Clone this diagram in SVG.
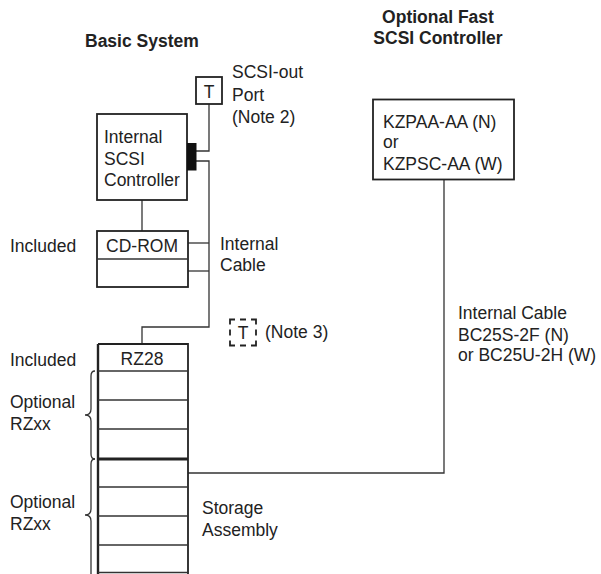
<svg xmlns="http://www.w3.org/2000/svg" width="601" height="574" viewBox="0 0 601 574">
<style>
text{font-family:"Liberation Sans",Arial,sans-serif;font-size:17.5px;fill:#222}
.b{font-weight:bold}
.m{text-anchor:middle}
.box{fill:none;stroke:#222;stroke-width:1.8}
.ln{fill:none;stroke:#333;stroke-width:1.3}
.dash{fill:none;stroke:#222;stroke-width:1.8;stroke-dasharray:5,5,6,5,10,5,6,5,10,5,6,5,10,5,6,5,5}
</style>
<rect width="601" height="574" fill="#fff"/>
<g id="titles">
<text class="b" x="85" y="47">Basic System</text>
<text class="b m" x="438" y="23">Optional Fast</text>
<text class="b m" x="438" y="44">SCSI Controller</text>
</g>
<g id="connectors">
<path class="ln" d="M209,104 V151 H196"/>
<path class="ln" d="M196,161 H209 V327 H142 V344"/>
<path class="ln" d="M142,200 V231"/>
<path class="ln" d="M188,243 H209"/>
<path class="ln" d="M188,271 H209"/>
<path class="ln" d="M444,180 V473 H188"/>
</g>
<g id="scsi-out-port">
<rect class="box" x="196" y="77" width="26" height="27"/>
<text class="m" x="209" y="98">T</text>
<text x="232" y="78">SCSI-out</text>
<text x="232" y="101">Port</text>
<text x="232" y="123">(Note 2)</text>
</g>
<g id="internal-controller">
<rect class="box" x="97" y="114" width="90" height="86"/>
<rect x="187" y="143" width="9.5" height="27.5" fill="#111"/>
<text x="104" y="142.5">Internal</text>
<text x="104" y="164.5">SCSI</text>
<text x="104" y="186">Controller</text>
</g>
<g id="cd-rom">
<rect class="box" x="97" y="231" width="91" height="56"/>
<line class="ln" x1="97" y1="259" x2="188" y2="259"/>
<text class="m" x="142" y="251.5">CD-ROM</text>
<text x="10" y="251.5">Included</text>
</g>
<g id="internal-cable-label">
<text x="220" y="250">Internal</text>
<text x="220" y="271">Cable</text>
</g>
<g id="terminator-note3">
<rect class="dash" x="230" y="319.5" width="26" height="26"/>
<text class="m" x="243" y="339">T</text>
<text x="265" y="338">(Note 3)</text>
</g>
<g id="storage-assembly">
<path class="box" d="M98,344 H188 V574 M98,344 V574"/>
<line x1="98" y1="344" x2="98" y2="574" stroke="#222" stroke-width="2.4"/>
<line class="ln" x1="98" y1="371" x2="188" y2="371"/>
<line class="ln" x1="98" y1="400" x2="188" y2="400"/>
<line class="ln" x1="98" y1="429" x2="188" y2="429"/>
<line x1="98" y1="459" x2="188" y2="459" stroke="#222" stroke-width="3"/>
<line class="ln" x1="98" y1="487" x2="188" y2="487"/>
<line class="ln" x1="98" y1="516" x2="188" y2="516"/>
<line class="ln" x1="98" y1="545" x2="188" y2="545"/>
<line class="ln" x1="98" y1="572.5" x2="188" y2="572.5"/>
<text class="m" x="142" y="365">RZ28</text>
<text x="10" y="365.5">Included</text>
<path class="ln" d="M95,371 Q91,371 91,376 L91,409 Q91,415 85,415 Q91,415 91,421 L91,454 Q91,459 95,459"/>
<path class="ln" d="M95,459 Q91,459 91,464 L91,509 Q91,515 85,515 Q91,515 91,521 L91,574"/>
<text x="10" y="408">Optional</text>
<text x="10" y="429.5">RZxx</text>
<text x="10" y="508">Optional</text>
<text x="10" y="530">RZxx</text>
<text x="202" y="514">Storage</text>
<text x="202" y="535.5">Assembly</text>
</g>
<g id="fast-controller">
<rect class="box" x="373" y="99.5" width="141" height="80"/>
<text x="383" y="127.5">KZPAA-AA (N)</text>
<text x="383" y="147.5">or</text>
<text x="383" y="169.5">KZPSC-AA (W)</text>
</g>
<g id="cable-label">
<text x="458" y="319">Internal Cable</text>
<text x="458" y="340.5">BC25S-2F (N)</text>
<text x="458" y="361">or BC25U-2H (W)</text>
</g>
</svg>
